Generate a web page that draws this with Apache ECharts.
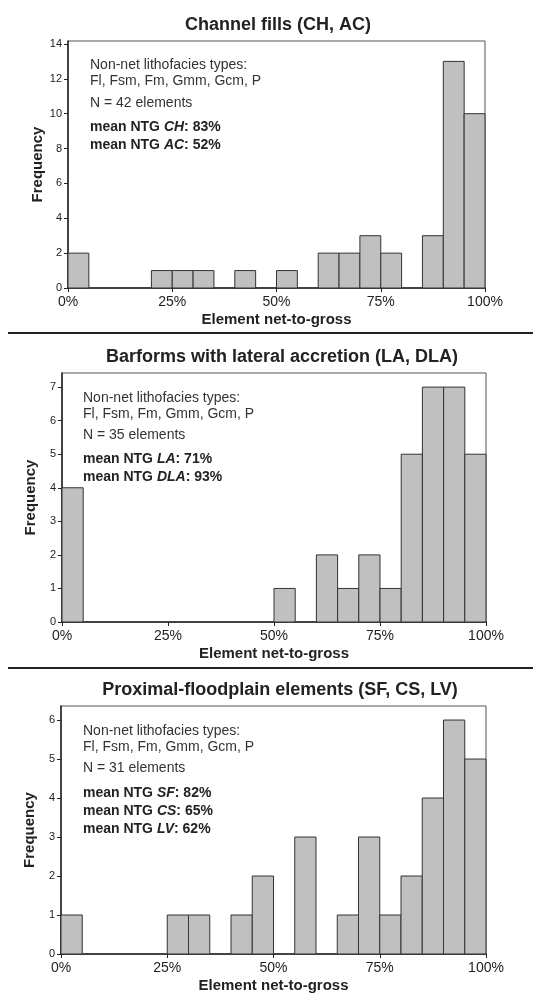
<!DOCTYPE html>
<html>
<head>
<meta charset="utf-8">
<script src="https://cdn.jsdelivr.net/npm/echarts@6/dist/echarts.min.js"></script>
<style>
	html, body { margin: 0; padding: 0; background: #fff; }
	#chart { width: 533px; height: 994px; }
</style>
</head>
<body>
<div id="chart"></div>
<script>
// bins of 5% net-to-gross
var binStart = [0,5,10,15,20,25,30,35,40,45,50,55,60,65,70,75,80,85,90,95];
var binWidth = 5;
var countsChannel = [2,0,0,0,1,1,1,0,1,0,1,0,2,2,3,2,0,3,13,10];
var countsBarform = [4,0,0,0,0,0,0,0,0,0,1,0,2,1,2,1,5,7,7,5];
var countsFloodplain = [1,0,0,0,0,1,1,0,1,2,0,3,0,1,3,1,2,4,6,5];
var xTicks = [0,25,50,75,100];
var yTicksChannel = [0,2,4,6,8,10,12,14];
var yTicksBarform = [0,1,2,3,4,5,6,7];
var yTicksFloodplain = [0,1,2,3,4,5,6];
var titles = ['Channel fills (CH, AC)', 'Barforms with lateral accretion (LA, DLA)', 'Proximal-floodplain elements (SF, CS, LV)'];

var font = "'Liberation Sans', Arial, sans-serif";
var ink = '#222';

function binData(counts){
	var out = [];
	for (var i = 0; i < counts.length; i++) {
		if (counts[i] > 0) out.push([binStart[i], binStart[i] + binWidth, counts[i]]);
	}
	return out;
}

function renderBin(params, api){
	var p0 = api.coord([api.value(0), 0]);
	var p1 = api.coord([api.value(1), api.value(2)]);
	return {
		type: 'rect',
		shape: { x: p0[0], y: p1[1], width: p1[0] - p0[0], height: p0[1] - p1[1] },
		style: { fill: '#c0c0c0', stroke: '#333', lineWidth: 1 }
	};
}

var grids = [
	{ left: 68, right: 48, top: 41, height: 247 },
	{ left: 62, right: 47, top: 373, height: 249 },
	{ left: 61, right: 47, top: 706, height: 248 }
];
var yMax = [14.17, 7.42, 6.36];
var yTicks = [yTicksChannel, yTicksBarform, yTicksFloodplain];
var counts = [countsChannel, countsBarform, countsFloodplain];
var titleTop = [16, 348, 681];
var titleX = [278, 282, 280];
var yNameGap = [23, 24, 24];

var option = {
	animation: false,
	title: [],
	grid: [],
	xAxis: [],
	yAxis: [],
	series: [],
	graphic: []
};

for (var k = 0; k < 3; k++) {
	option.title.push({
		text: titles[k],
		left: titleX[k],
		top: titleTop[k],
		textAlign: 'center',
		padding: 0,
		textStyle: { fontFamily: font, fontSize: 18, fontWeight: 'bold', color: ink }
	});
	option.grid.push({
		left: grids[k].left, right: grids[k].right, top: grids[k].top, height: grids[k].height,
		show: true, borderColor: '#555', borderWidth: 1
	});
	option.xAxis.push({
		type: 'value', gridIndex: k, min: 0, max: 100, interval: 25,
		name: 'Element net-to-gross', nameLocation: 'middle', nameGap: 24,
		nameMoveOverlap: false,
		nameTextStyle: { fontFamily: font, fontSize: 15, fontWeight: 'bold', color: ink },
		axisLine: { lineStyle: { color: ink, width: 1.5 } },
		axisTick: { length: 4, lineStyle: { color: ink } },
		axisLabel: { margin: 7, fontFamily: font, fontSize: 14, color: ink, formatter: '{value}%' },
		splitLine: { show: false }
	});
	option.yAxis.push({
		type: 'value', gridIndex: k, min: 0, max: yMax[k],
		name: 'Frequency', nameLocation: 'middle', nameGap: yNameGap[k],
		nameMoveOverlap: false,
		nameTextStyle: { fontFamily: font, fontSize: 15, fontWeight: 'bold', color: ink },
		axisLine: { show: true, lineStyle: { color: ink, width: 1.5 } },
		axisTick: { show: true, length: 4, customValues: yTicks[k], lineStyle: { color: ink } },
		axisLabel: { margin: 6, fontFamily: font, fontSize: 11, color: ink, customValues: yTicks[k] },
		splitLine: { show: false }
	});
	option.series.push({
		type: 'custom', xAxisIndex: k, yAxisIndex: k,
		renderItem: renderBin, data: binData(counts[k])
	});
}

var rich = {
	b: { fontFamily: font, fontSize: 14, fontWeight: 'bold', fill: ink },
	bi: { fontFamily: font, fontSize: 14, fontWeight: 'bold', fontStyle: 'italic', fill: ink }
};
var notes = [
	{ x: 90, top: [57, 96, 118], n: 'N = 42 elements',
		means: [['CH', '83%'], ['AC', '52%']] },
	{ x: 83, top: [390, 428, 450], n: 'N = 35 elements',
		means: [['LA', '71%'], ['DLA', '93%']] },
	{ x: 83, top: [723, 761, 784], n: 'N = 31 elements',
		means: [['SF', '82%'], ['CS', '65%'], ['LV', '62%']] }
];
notes.forEach(function(nt){
	option.graphic.push({
		type: 'text', left: nt.x, top: nt.top[0],
		style: { text: 'Non-net lithofacies types:\nFl, Fsm, Fm, Gmm, Gcm, P', font: '14px ' + font, fill: '#333', lineHeight: 16 }
	});
	option.graphic.push({
		type: 'text', left: nt.x, top: nt.top[1],
		style: { text: nt.n, font: '14px ' + font, fill: '#333' }
	});
	option.graphic.push({
		type: 'text', left: nt.x, top: nt.top[2],
		style: {
			text: nt.means.map(function(m){ return '{b|mean NTG }{bi|' + m[0] + '}{b|: ' + m[1] + '}'; }).join('\n'),
			rich: rich, lineHeight: 18
		}
	});
});

// separators between panels
[333, 668].forEach(function(y){
	option.graphic.push({
		type: 'line', shape: { x1: 8, y1: y, x2: 533, y2: y },
		style: { stroke: ink, lineWidth: 2 }
	});
});

var myChart = echarts.init(document.getElementById('chart'));
myChart.setOption(option);
</script>
</body>
</html>
